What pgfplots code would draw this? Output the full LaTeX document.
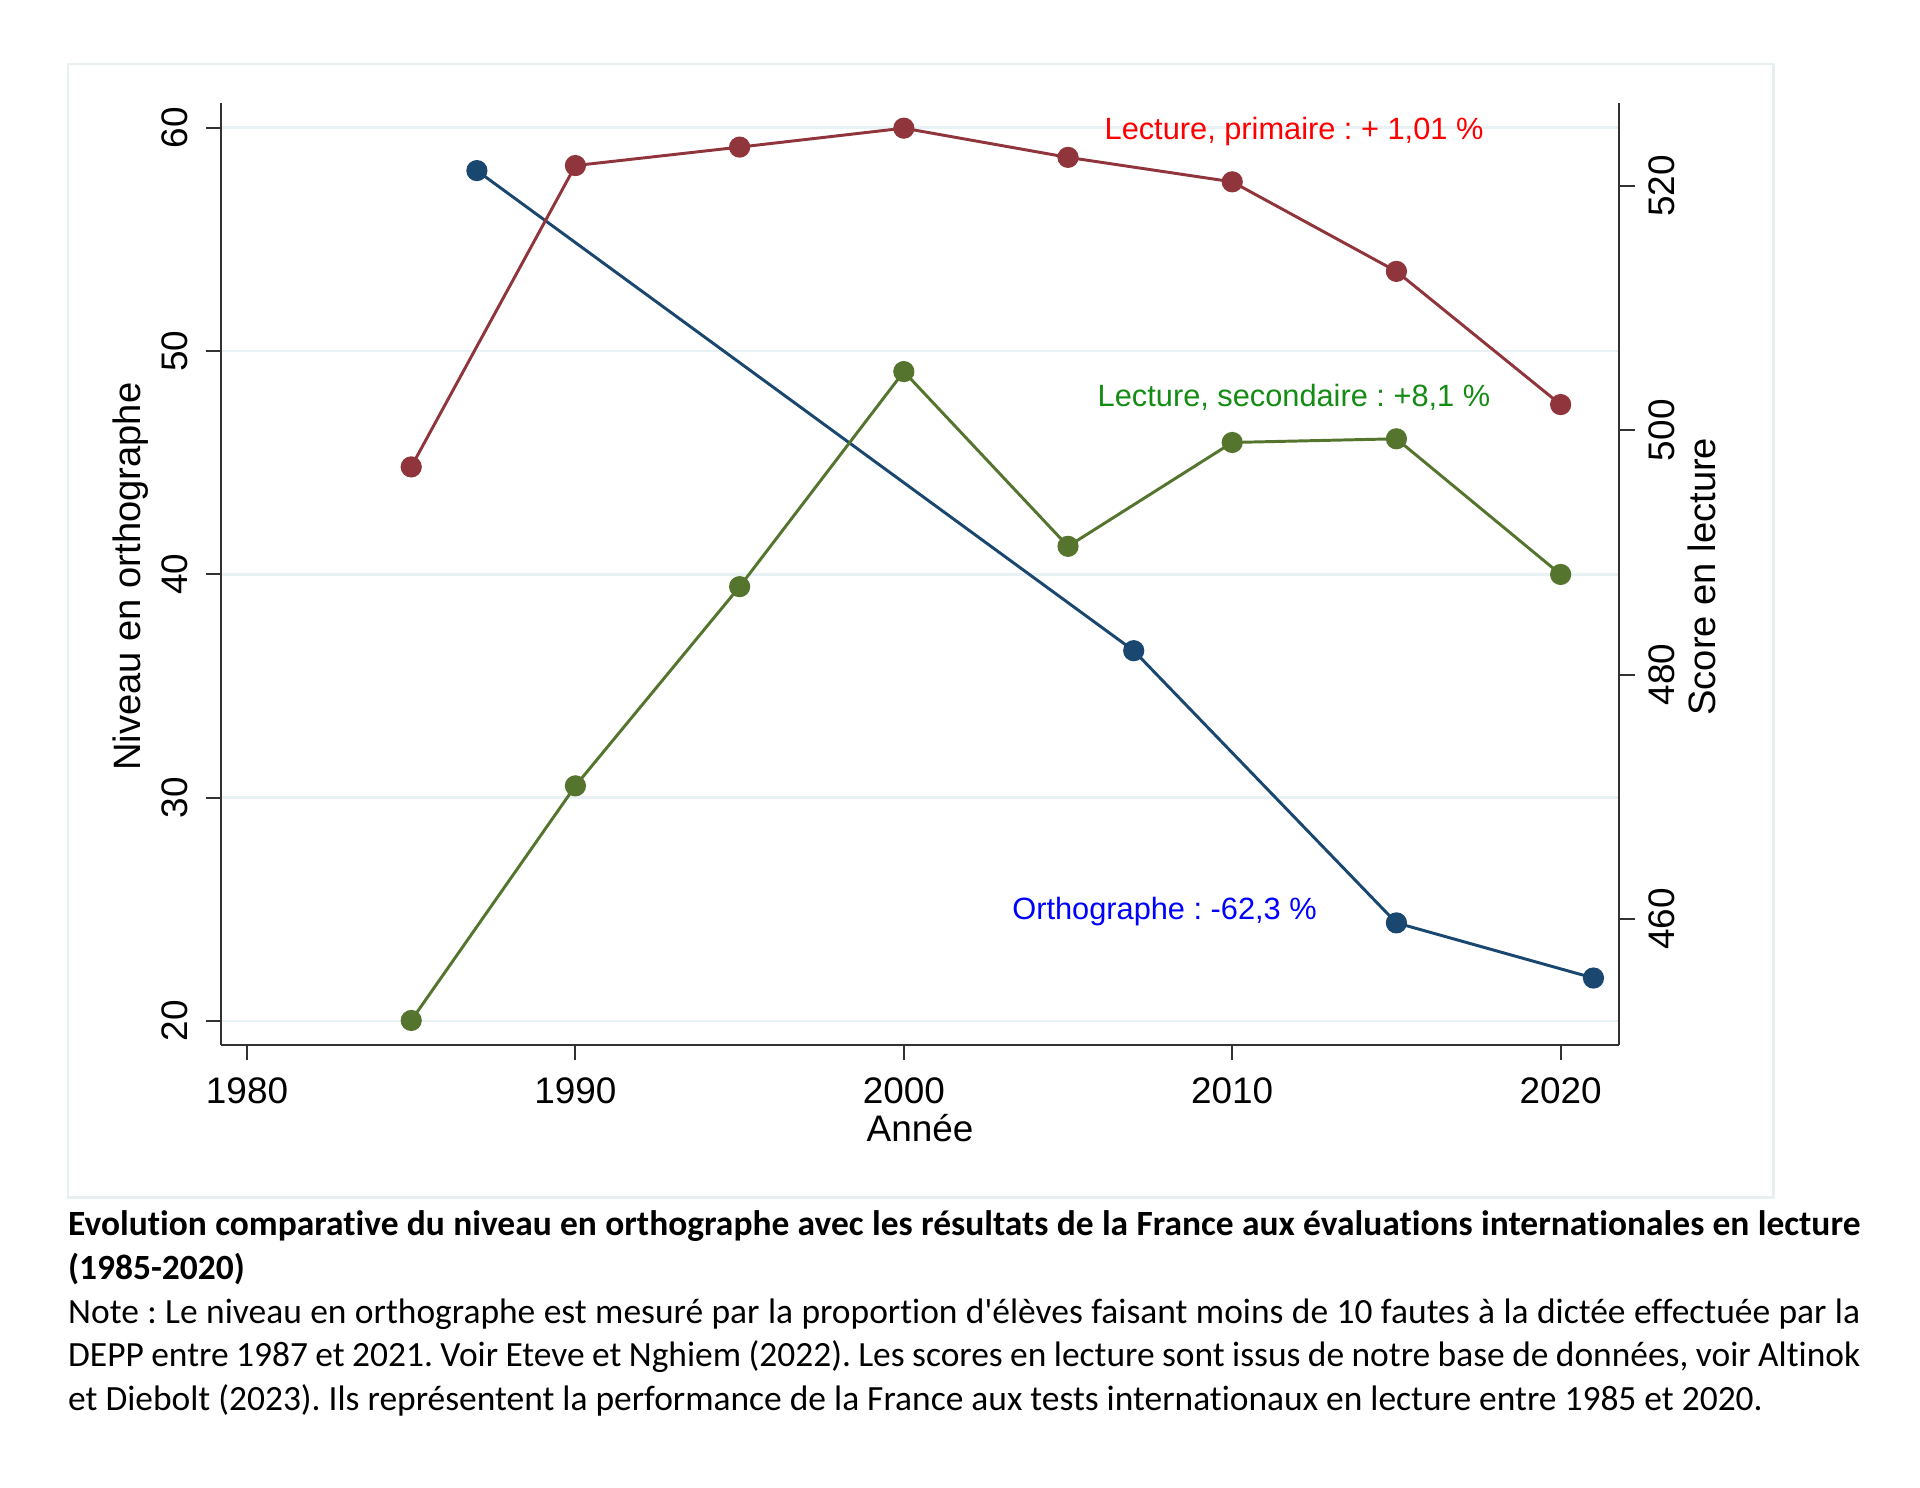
\documentclass[border=0pt]{standalone}
\usepackage{fontspec}
\setmainfont{Liberation Sans}
\newfontfamily\capfont[Ligatures={NoCommon}]{Carlito}
\usepackage{pgfplots}
\pgfplotsset{compat=1.18}
\definecolor{navyS}{RGB}{26,71,111}
\definecolor{maroonS}{RGB}{144,53,59}
\definecolor{greenS}{RGB}{85,117,47}
\definecolor{gridS}{RGB}{232,241,243}
\definecolor{frameS}{RGB}{232,239,241}
\definecolor{txtred}{RGB}{255,0,0}
\definecolor{txtgreen}{RGB}{20,140,20}
\definecolor{txtblue}{RGB}{0,0,255}
\definecolor{axisS}{RGB}{50,50,50}
\pgfplotsset{
  base/.style={
    scale only axis, width=567.95pt, height=382.75pt,
    at={(89.8pt,180pt)}, anchor=south west,
    xmin=1979.209, xmax=2021.78, clip=false,
    axis line style={axisS, line width=0.8pt},
    tick style={axisS, line width=0.8pt},
    tick align=outside, major tick length=6.3pt,
    /pgf/number format/assume math mode=true,
    /pgf/number format/1000 sep={},
    tick label style={font=\fontsize{15}{15}\selectfont},
    label style={font=\fontsize{15.5}{15.5}\selectfont},
  },
  ser/.style={line width=1.2pt, mark=*, mark size=3.7pt, mark options={solid}},
}
\begin{document}
\frenchspacing
\begin{tikzpicture}[x=1pt,y=1pt]
\path[use as bounding box] (0,0) rectangle (780,604.5);
\draw[frameS, line width=0.9pt] (27.5,118) rectangle (720.5,578.65);

\begin{axis}[base,
  ymin=18.925, ymax=61.119,
  axis x line*=bottom, axis y line*=left,
  xtick={1980,1990,2000,2010,2020},
  ytick={20,30,40,50,60},
  ymajorgrids, grid style={gridS, line width=1.1pt},
  xticklabel style={anchor=north, inner sep=0pt}, xticklabel shift=7pt,
  yticklabel style={rotate=90, anchor=south, inner sep=0pt}, yticklabel shift=6.95pt,
  xlabel={Année},
  xlabel style={at={(axis description cs:0.5,-0.10268)}, anchor=base, inner sep=0pt, font=\fontsize{15}{15}\selectfont},
  ylabel={Niveau en orthographe},
  ylabel style={at={(axis description cs:-0.0647,0.497)}, anchor=center},
]
\addplot[ser, color=navyS] coordinates {
  (1987,58.08) (2007,36.58) (2015,24.39) (2021,21.92)
};
\node[anchor=base west, inner sep=0pt, text=txtred, font=\fontsize{12.5}{12.5}\selectfont] at (axis cs:2006.10,59.493) {Lecture, primaire : + 1,01 \%};
\node[anchor=base west, inner sep=0pt, text=txtgreen, font=\fontsize{12.5}{12.5}\selectfont] at (axis cs:2005.89,47.51) {Lecture, secondaire : +8,1 \%};
\node[anchor=base west, inner sep=0pt, text=txtblue, font=\fontsize{12.5}{12.5}\selectfont] at (axis cs:2003.29,24.52) {Orthographe : -62,3 \%};
\end{axis}

\begin{axis}[base,
  ymin=449.70, ymax=526.80,
  axis x line=none, axis y line*=right,
  ytick={460,480,500,520},
  yticklabel style={rotate=90, anchor=north, inner sep=0pt}, yticklabel shift=5.6pt,
  ylabel={Score en lecture},
  ylabel style={at={(axis description cs:1.059,0.497)}, anchor=center},
]
\addplot[ser, color=maroonS] coordinates {
  (1985,497.0) (1990,521.66) (1995,523.17) (2000,524.72) (2005,522.33) (2010,520.33) (2015,513.0) (2020,502.1)
};
\addplot[ser, color=greenS] coordinates {
  (1985,451.7) (1990,470.9) (1995,487.2) (2000,504.8) (2005,490.5) (2010,499.0) (2015,499.3) (2020,488.2)
};
\end{axis}

\begin{scope}[font=\capfont\fontsize{14.4}{17.75}\selectfont]
\node[anchor=base west, inner sep=0pt, font=\capfont\bfseries\fontsize{14.4}{17.75}\selectfont] at (27.5,102.5)
  {\makebox[728pt][s]{Evolution comparative du niveau en orthographe avec les résultats de la France aux évaluations internationales en lecture}};
\node[anchor=base west, inner sep=0pt, font=\capfont\bfseries\fontsize{14.4}{17.75}\selectfont] at (27.5,84.75)
  {(1985-2020)};
\node[anchor=base west, inner sep=0pt] at (27.5,67)
  {\makebox[728pt][s]{Note : Le niveau en orthographe est mesuré par la proportion d'élèves faisant moins de 10 fautes à la dictée effectuée par la}};
\node[anchor=base west, inner sep=0pt] at (27.5,49.25)
  {\makebox[728pt][s]{DEPP entre 1987 et 2021. Voir Eteve et Nghiem (2022). Les scores en lecture sont issus de notre base de données, voir Altinok}};
\node[anchor=base west, inner sep=0pt] at (27.5,31.5)
  {et Diebolt (2023). Ils représentent la performance de la France aux tests internationaux en lecture entre 1985 et 2020.};
\end{scope}
\end{tikzpicture}
\end{document}
